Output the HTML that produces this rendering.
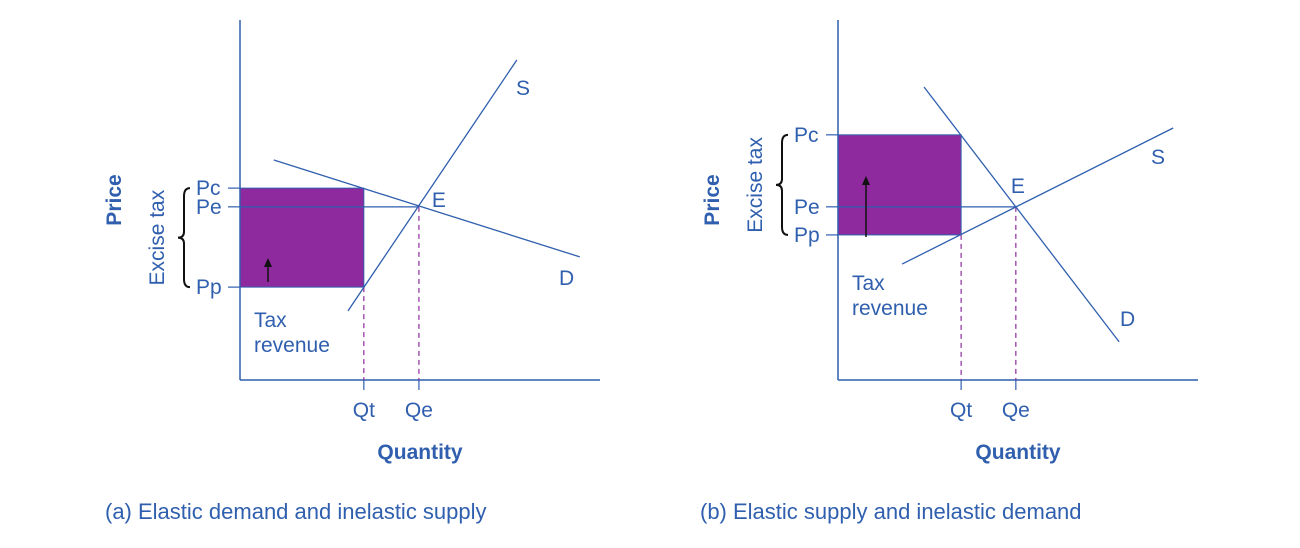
<!DOCTYPE html>
<html><head><meta charset="utf-8">
<style>
body{margin:0;background:#fff;}
svg{display:block;font-family:"Liberation Sans",Arial,sans-serif;}
</style></head>
<body>
<svg id="chart" width="1300" height="548" viewBox="0 0 1300 548"></svg>
<script>
// Panel data in axis units (axes span 0..10)
const panelNames = ["a", "b"];
const pricePc = [5.33, 6.81];
const pricePe = [4.81, 4.81];
const pricePp = [2.58, 4.03];
const qtyQt = [3.44, 3.42];
const qtyQe = [4.97, 4.94];
const supplyLine = [[3.0, 1.92, 7.69, 8.89], [1.78, 3.22, 9.31, 7.0]];
const demandLine = [[0.94, 6.11, 9.44, 3.42], [2.39, 8.14, 7.81, 1.06]];
const captions = ["(a) Elastic demand and inelastic supply", "(b) Elastic supply and inelastic demand"];

const NS = "http://www.w3.org/2000/svg";
const svg = document.getElementById("chart");
const BLUE = "#2f5fae", PURPLE = "#8e2a9e";
const origins = [240, 838];
const OY = 380, U = 36;
const FS = 21;

function mk(tag, attrs, parent, text) {
  const e = document.createElementNS(NS, tag);
  for (const k in attrs) e.setAttribute(k, attrs[k]);
  if (text !== undefined) e.textContent = text;
  (parent || svg).appendChild(e);
  return e;
}

panelNames.forEach((p, i) => {
  const ox = origins[i];
  const X = v => ox + v * U;
  const Y = v => OY - v * U;
  const g = mk("g", {});
  
  

  const r = mk("rect", {x: X(0), y: Y(pricePc[i]), width: X(qtyQt[i]) - X(0), height: Y(pricePp[i]) - Y(pricePc[i]), fill: PURPLE, stroke: BLUE, "stroke-width": 1}, g);
  
  

  const ya = mk("line", {x1: X(0), y1: 20, x2: X(0), y2: OY, stroke: BLUE, "stroke-width": 1.5}, g);
  
  
  const xa = mk("line", {x1: X(0), y1: OY, x2: X(10), y2: OY, stroke: BLUE, "stroke-width": 1.5}, g);
  
  

  mk("line", {x1: X(0), y1: Y(pricePe[i]), x2: X(qtyQe[i]), y2: Y(pricePe[i]), stroke: BLUE, "stroke-width": 1.2}, g);

  [["Pc", pricePc[i]], ["Pe", pricePe[i]], ["Pp", pricePp[i]]].forEach(([lab, v]) => {
    mk("line", {x1: X(0) - 12, y1: Y(v), x2: X(0), y2: Y(v), stroke: BLUE, "stroke-width": 1.2}, g);
    const t = mk("text", {x: X(0) - 44, y: Y(v) + 7, fill: BLUE, "font-size": FS}, g, lab);
    
    
  });

  [["Qt", qtyQt[i], pricePp[i]], ["Qe", qtyQe[i], pricePe[i]]].forEach(([lab, q, pv]) => {
    mk("line", {x1: X(q), y1: Y(pv), x2: X(q), y2: OY, stroke: PURPLE, "stroke-width": 1.2, "stroke-dasharray": "5,4"}, g);
    mk("line", {x1: X(q), y1: OY, x2: X(q), y2: OY + 10, stroke: BLUE, "stroke-width": 1.2}, g);
    const t = mk("text", {x: X(q), y: 417, fill: BLUE, "font-size": FS, "text-anchor": "middle"}, g, lab);
    
    
  });

  const s = supplyLine[i], d = demandLine[i];
  const sl = mk("line", {x1: X(s[0]), y1: Y(s[1]), x2: X(s[2]), y2: Y(s[3]), stroke: BLUE, "stroke-width": 1.3}, g);
  
  
  const dl = mk("line", {x1: X(d[0]), y1: Y(d[1]), x2: X(d[2]), y2: Y(d[3]), stroke: BLUE, "stroke-width": 1.3}, g);
  
  

  const sPos = i === 0 ? [516, 95] : [1151, 164];
  const dPos = i === 0 ? [559, 285] : [1120, 326];
  mk("text", {x: sPos[0], y: sPos[1], fill: BLUE, "font-size": FS}, g, "S");
  mk("text", {x: dPos[0], y: dPos[1], fill: BLUE, "font-size": FS}, g, "D");
  mk("text", {x: i === 0 ? X(qtyQe[i]) + 13 : X(qtyQe[i]) - 5, y: i === 0 ? Y(pricePe[i]) : Y(pricePe[i]) - 14, fill: BLUE, "font-size": FS}, g, "E");

  const bx = X(0) - 56, top = Y(pricePc[i]), bot = Y(pricePp[i]), mid = (top + bot) / 2;
  const br = mk("path", {d: `M${bx+6},${top} Q${bx},${top} ${bx},${top+8} L${bx},${mid-6} Q${bx},${mid} ${bx-6},${mid} Q${bx},${mid} ${bx},${mid+6} L${bx},${bot-8} Q${bx},${bot} ${bx+6},${bot}`, fill: "none", stroke: "#111", "stroke-width": 2}, g);
  
  
  const et = mk("text", {transform: `translate(${bx-20},${mid}) rotate(-90)`, fill: BLUE, "font-size": FS, "text-anchor": "middle"}, g, "Excise tax");
  
  
  const pt = mk("text", {transform: `translate(${X(0)-119},200) rotate(-90)`, fill: BLUE, "font-size": 21, "font-weight": "bold", "text-anchor": "middle"}, g, "Price");
  
  
  const qt = mk("text", {x: X(5), y: 459, fill: BLUE, "font-size": 21, "font-weight": "bold", "text-anchor": "middle"}, g, "Quantity");
  
  

  const ax = X(0) + 28;
  const ay1 = i === 0 ? 282 : 237, ay2 = i === 0 ? 258 : 176;
  mk("line", {x1: ax, y1: ay1, x2: ax, y2: ay2 + 8, stroke: "#111", "stroke-width": 1.5}, g);
  mk("path", {d: `M${ax-4},${ay2+9} L${ax},${ay2} L${ax+4},${ay2+9} Z`, fill: "#111"}, g);
  const tx = X(0) + 14, ty = i === 0 ? 327 : 290;
  const tr = mk("text", {x: tx, y: ty, fill: BLUE, "font-size": FS}, g);
  
  
  mk("tspan", {x: tx, dy: 0}, tr, "Tax");
  mk("tspan", {x: tx, dy: 25}, tr, "revenue");

  const c = mk("text", {x: i === 0 ? 105 : 700, y: 519, fill: BLUE, "font-size": 22}, g, captions[i]);
  
  
});
</script>
</body></html>
